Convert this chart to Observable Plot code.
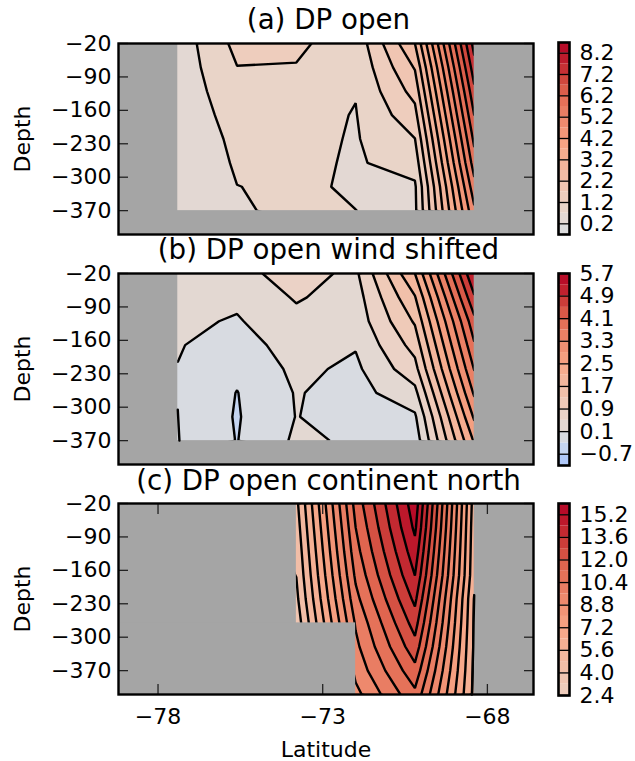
<!DOCTYPE html>
<html><head><meta charset="utf-8">
<script src="https://cdn.jsdelivr.net/npm/d3@7"></script>
<script src="https://cdn.jsdelivr.net/npm/@observablehq/plot@0.6"></script>
<style>
html,body{margin:0;padding:0;background:#fff;}
#page{position:relative;width:635px;height:761px;overflow:hidden;font-family:"DejaVu Sans";color:#000;}
.panel,.bar{position:absolute;}
.panel svg,.bar svg{overflow:visible;display:block;background:none;}
.title{position:absolute;left:121px;width:415px;text-align:center;font-size:27.7px;line-height:30px;white-space:nowrap;}
</style></head><body><div id="page"></div>
<script>
const latitudes = [-77.4, -75.6, -73.8, -72, -70.2, -68.4];
const yTicks = [-20, -90, -160, -230, -300, -370];
const xTicks = [-78, -73, -68];
const titles = ["(a) DP open", "(b) DP open wind shifted", "(c) DP open continent north"];

const gridA = [
  0.40, 1.34, 1.32, 0.85, 2.70, 7.90,
  0.39, 1.19, 1.17, 0.78, 2.24, 7.49,
  0.37, 1.04, 1.00, 0.72, 1.88, 7.08,
  0.35, 0.91, 0.85, 0.68, 1.53, 6.70,
  0.33, 0.81, 0.84, 0.66, 1.19, 6.32,
  0.30, 0.755, 0.806, 0.65, 0.90, 5.95,
  0.27, 0.695, 0.757, 0.66, 0.63, 5.52,
  0.25, 0.685, 0.73, 0.702, 0.60, 5.10
];
const gridB = [
  0.30, 0.40, 0.633, 0.42, 2.10, 5.30,
  0.25, 0.18, 0.54, 0.317, 1.67, 4.85,
  0.18, 0.065, 0.38, 0.26, 1.35, 4.38,
  0.124, -0.07, 0.27, 0.13, 1.05, 4.05,
  0.09, -0.22, 0.19, 0.02, 0.76, 3.72,
  0.06, -0.31, 0.125, -0.05, 0.38, 3.36,
  0.045, -0.33, 0.11, -0.05, 0.04, 2.96,
  -0.01, -0.31, 0.164, 0.05, -0.13, 2.55
];
const gridC = [
  3.0, 3.0, 4.6, 11.5, 15.7, 6.0,
  3.0, 3.0, 4.4, 11.2, 15.37, 5.9,
  3.0, 3.0, 4.2, 10.9, 14.9, 5.85,
  3.0, 3.0, 4.02, 10.55, 14.41, 5.8,
  3.0, 3.0, 3.8, 10.15, 13.8, 5.56,
  3.0, 3.0, 3.5, 9.7, 13.16, 5.52,
  3.0, 3.0, 3.5, 9.4, 12.5, 5.48,
  3.0, 3.0, 3.5, 9.05, 11.75, 5.45,
  3.0, 3.0, 3.5, 8.55, 11.0, 5.4
];

const levelsA = d3.range(0, 18).map(i => +(-0.3 + i * 0.5).toFixed(1));
const levelsB = d3.range(0, 17).map(i => +(-1.1 + i * 0.4).toFixed(1));
const levelsC = d3.range(0, 17).map(i => +(2.4 + i * 0.8).toFixed(1));
const barTicksA = [0.2, 1.2, 2.2, 3.2, 4.2, 5.2, 6.2, 7.2, 8.2];
const barTicksB = [-0.7, 0.1, 0.9, 1.7, 2.5, 3.3, 4.1, 4.9, 5.7];
const barTicksC = [2.4, 4.0, 5.6, 7.2, 8.8, 10.4, 12.0, 13.6, 15.2];

const wallLatB = [-77.4, -77.35];
const wallDepthB = [-305, -370];
const wallLatC = [-68.4, -68.42, -68.43, -68.45, -68.47];
const wallDepthC = [-212, -270, -320, -370, -420];

const landA = [
  {x1: -79.2, x2: -77.4, y1: -420, y2: -20},
  {x1: -68.4, x2: -66.6, y1: -420, y2: -20},
  {x1: -79.2, x2: -66.6, y1: -420, y2: -370}
];
const landC = [
  {x1: -79.2, x2: -73.8, y1: -420, y2: -20},
  {x1: -79.2, x2: -72, y1: -420, y2: -270},
  {x1: -68.4, x2: -66.6, y1: -420, y2: -20}
];

const cwT = [0, .143, .286, .429, .5, .571, .714, .75, .857, .9, .95, 1];
const cwC = ["#3b4cc0", "#6788ee", "#9abbff", "#c9d7f0", "#dddcdc", "#edd1c2", "#f7a889", "#f49a7b", "#e26952", "#d0473d", "#bf1f2d", "#b40426"];
const coolwarm = d3.scaleLinear().domain(cwT).range(cwC).interpolate(d3.interpolateRgb);

const INK = "#000";
const LAND = "#a5a5a5";
const LINE_W = 2.4;
const minus = d => String(d).replace("-", "\u2212");
const band = (l, step, vmax, vneg) => {
  const m = l + step / 2;
  return coolwarm(0.5 + 0.5 * m / (m < 0 ? vneg : vmax));
};

const page = document.getElementById("page");

function place(node, cls, left, top) {
  const d = document.createElement("div");
  d.className = cls;
  d.style.left = left + "px";
  d.style.top = top + "px";
  d.appendChild(node);
  page.appendChild(d);
}
function addTitle(text, top) {
  const d = document.createElement("div");
  d.className = "title";
  d.style.top = top + "px";
  d.textContent = text;
  page.appendChild(d);
}
function wall(lat, depth) {
  return Plot.line(lat.map((x, i) => ({x, y: depth[i]})), {x: "x", y: "y", stroke: INK, strokeWidth: LINE_W});
}

function panel({grid, levels, vmax, vneg, land, top, bottomAxis, over, rows}) {
  const step = levels[1] - levels[0];
  const colors = levels.map(l => band(l, step, vmax, vneg || vmax));
  const raster = {
    width: latitudes.length, height: rows,
    x1: latitudes[0] - 0.9, x2: latitudes[5] + 0.9,
    y1: 5, y2: 5 - rows * 50, clip: true
  };
  const marks = [
    Plot.contour(grid, {...raster, value: d => d, thresholds: levels, fill: "value", stroke: "none"}),
    Plot.contour(grid, {...raster, value: d => d, thresholds: levels.slice(1), fill: "none", stroke: INK, strokeWidth: LINE_W}),
    Plot.rect(land, {x1: "x1", x2: "x2", y1: "y1", y2: "y2", fill: LAND}),
    ...(over || []),
    Plot.axisY(yTicks, {anchor: "left", tickSize: -10, tickPadding: 17, stroke: "#222", strokeWidth: 1.3, tickFormat: minus,
      label: "Depth", labelAnchor: "center", labelArrow: "none", labelOffset: 104}),
    Plot.axisY(yTicks, {anchor: "right", tickSize: -10, stroke: "#222", strokeWidth: 1.3, tickFormat: () => "", label: null})
  ];
  if (bottomAxis) {
    marks.push(
      Plot.axisX(xTicks, {anchor: "bottom", tickSize: -10, tickPadding: 24, stroke: "#222", strokeWidth: 1.3, tickFormat: minus,
        label: "Latitude", labelAnchor: "center", labelArrow: "none", labelOffset: 62}),
      Plot.axisX(xTicks, {anchor: "top", tickSize: -10, stroke: "#222", strokeWidth: 1.3, tickFormat: () => "", label: null})
    );
  }
  marks.push(Plot.frame({stroke: INK, strokeWidth: 2.4}));
  const svgPlot = Plot.plot({
    width: 545, height: bottomAxis ? 258 : 195,
    marginLeft: 118, marginRight: 12, marginTop: 2, marginBottom: bottomAxis ? 65 : 2,
    style: {fontFamily: "DejaVu Sans", fontSize: "22px", background: "none", color: "#000"},
    x: {domain: [-79.2, -66.6], axis: null},
    y: {domain: [-420, -20], axis: null},
    color: {type: "ordinal", domain: levels, range: colors},
    marks
  });
  place(svgPlot, "panel", 0, top - 2);
}

function colorbar({levels, vmax, vneg, ticks, top, bottom, domain}) {
  const step = levels[1] - levels[0];
  const colors = levels.map(l => band(l, step, vmax, vneg || vmax));
  const svgPlot = Plot.plot({
    width: 77, height: bottom - top + 4,
    marginLeft: 2, marginRight: 64, marginTop: 2, marginBottom: 2,
    style: {fontFamily: "DejaVu Sans", fontSize: "22px", background: "none", color: "#000"},
    x: {domain: [0, 1], axis: null},
    y: {domain, axis: null},
    color: {type: "ordinal", domain: levels, range: colors},
    marks: [
      Plot.rect(levels, {x1: 0, x2: 1, y1: d => d, y2: d => d + step, fill: d => d}),
      Plot.ruleY(ticks, {stroke: INK, strokeWidth: 1.3}),
      Plot.axisY(ticks, {anchor: "right", tickSize: 0, tickPadding: 10, tickFormat: d => minus(d.toFixed(1)), label: null}),
      Plot.frame({stroke: INK, strokeWidth: 2.6})
    ]
  });
  place(svgPlot, "bar", 556, top - 2);
}

addTitle(titles[0], 5);
addTitle(titles[1], 235);
addTitle(titles[2], 466);

panel({grid: gridA, levels: levelsA, vmax: 8.7, land: landA, top: 43, rows: 8});
panel({grid: gridB, levels: levelsB, vmax: 5.7, vneg: 3, land: landA, top: 273, rows: 8, over: [wall(wallLatB, wallDepthB)]});
panel({grid: gridC, levels: levelsC, vmax: 16, land: landC, top: 503, rows: 9, bottomAxis: true, over: [wall(wallLatC, wallDepthC)]});

colorbar({levels: levelsA, vmax: 8.7, ticks: barTicksA, top: 42, bottom: 234, domain: [-0.3, 8.7]});
colorbar({levels: levelsB, vmax: 5.7, vneg: 3, ticks: barTicksB, top: 273, bottom: 465, domain: [-1.1, 5.7]});
colorbar({levels: levelsC, vmax: 16, ticks: barTicksC, top: 503, bottom: 695, domain: [2.4, 16]});
</script></body></html>
